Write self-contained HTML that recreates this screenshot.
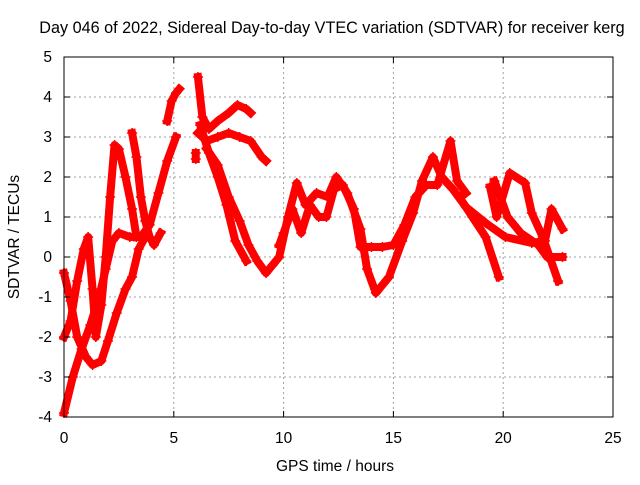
<!DOCTYPE html>
<html><head><meta charset="utf-8"><style>
body{margin:0;background:#fff;}
svg text{font-family:"Liberation Sans",sans-serif;font-size:15.5px;fill:#000;}
</style></head><body>
<svg id="c" width="640" height="480">
<text x="332" y="33" text-anchor="middle" style="font-size:16.2px">Day 046 of 2022, Sidereal Day-to-day VTEC variation (SDTVAR) for receiver kerg</text>
<text x="335" y="471" text-anchor="middle">GPS time / hours</text>
<text transform="translate(19,237) rotate(-90)" text-anchor="middle">SDTVAR / TECUs</text>
<g id="grid"></g><g id="data"></g><g id="axes"></g>
</svg>
<script>
const xTicks=[0,5,10,15,20,25];
const yTicks=[-4,-3,-2,-1,0,1,2,3,4,5];
const track1=[[0,-3.9],[0.4,-3],[0.8,-2.3],[1.2,-1.7],[1.6,-1.0],[1.9,-0.3],[2.2,0.4],[2.5,0.6],[3,0.5],[3.5,0.5],[3.9,0.8],[4.3,1.6],[4.7,2.4],[5.1,3.0]];
const track2=[[0,-0.4],[0.3,-1.1],[0.6,-2.0],[1.0,-2.5],[1.3,-2.7],[1.7,-2.6],[2.0,-2.1],[2.4,-1.4],[2.8,-0.8],[3.1,-0.5],[3.4,0.2],[3.7,0.5]];
const track3=[[0,-2],[0.3,-1.6],[0.6,-0.6],[0.9,0.2],[1.1,0.5],[1.3,-0.8],[1.45,-2.0],[1.7,-1.2],[1.9,0.0],[2.1,1.5],[2.3,2.8],[2.5,2.7],[2.8,2.0],[3.1,1.2],[3.3,0.5]];
const track4=[[3.1,3.1],[3.3,2.5],[3.5,1.5],[3.7,0.9],[3.9,0.5],[4.1,0.3],[4.4,0.6]];
const track5=[[4.7,3.4],[4.9,3.9],[5.1,4.1],[5.25,4.2]];
const track6=[[6.0,2.6],[6.0,2.45]];
const track7=[[6.1,4.5],[6.3,3.5],[6.6,3.2],[7,3.4],[7.5,3.6],[7.9,3.8],[8.3,3.7],[8.5,3.6]];
const track8=[[6.1,3.1],[6.5,2.9],[7,3.0],[7.5,3.1],[8,3.0],[8.5,2.9],[9,2.5],[9.2,2.4]];
const track9=[[6.2,3.3],[6.6,2.6],[7,2.0],[7.4,1.3],[7.8,0.4],[8.3,-0.1]];
const track10=[[6.5,2.7],[7,2.3],[7.5,1.5],[8,0.9],[8.4,0.3],[8.8,-0.1],[9.2,-0.4],[9.5,-0.2],[9.8,0.0],[10.2,1.0],[10.6,1.85],[11,1.3],[11.5,1.6],[12,1.5],[12.4,2.0],[12.9,1.6],[13.5,0.7],[13.8,-0.3],[14.2,-0.9],[14.8,-0.5],[15.4,0.4],[15.9,1.1],[16.3,1.9],[16.8,2.5],[17.2,2.0],[17.7,1.7],[18.3,1.25],[19.2,0.85],[20.1,0.5],[21.3,0.35],[21.9,0.4],[22.2,1.2],[22.7,0.7]];
const track11=[[9.8,0.3],[10,0.6],[10.4,1.2],[10.8,0.6],[11.2,1.3],[11.6,1.0],[11.95,1.0],[12.3,1.7],[12.7,1.8],[13.2,1.2],[13.5,0.25],[14,0.25],[14.5,0.25],[15,0.3],[15.5,0.8],[16,1.5],[16.5,1.8],[17,1.8],[17.6,2.9],[17.9,1.9],[18.3,1.6]];
const track12=[[18,1.5],[18.6,1.0],[19.2,0.5],[19.8,-0.5]];
const track13=[[19.4,1.75],[19.7,1.0],[20.3,2.1],[21,1.85],[21.3,1.1],[21.8,0.5],[22.5,-0.6]];
const track14=[[19.6,1.9],[20.2,1.0],[20.8,0.6],[21.6,0.3],[22,0.0],[22.7,0.0]];
const tracks=[track1,track2,track3,track4,track5,track6,track7,track8,track9,track10,track11,track12,track13,track14];
const X=t=>64+t*(549/25), Y=v=>257-v*40;
const ns="http://www.w3.org/2000/svg";
function mk(tag,parent,attrs){const e=document.createElementNS(ns,tag);for(const k in attrs)e.setAttribute(k,attrs[k]);parent.appendChild(e);return e;}
const grid=document.getElementById('grid'),axes=document.getElementById('axes'),data=document.getElementById('data');
xTicks.forEach(t=>{
 if(t>0&&t<25){const g=mk('line',grid,{x1:X(t),x2:X(t),y1:57,y2:417,stroke:'#a0a0a0','stroke-dasharray':'2,3'});
 
 }
 mk('line',axes,{x1:X(t),x2:X(t),y1:417,y2:411,stroke:'#000'});
 mk('line',axes,{x1:X(t),x2:X(t),y1:57,y2:63,stroke:'#000'});
 const l=mk('text',axes,{x:X(t),y:443,'text-anchor':'middle'});l.textContent=t;
 
 
});
yTicks.forEach(v=>{
 if(v>-4&&v<5){const g=mk('line',grid,{x1:64,x2:613,y1:Y(v),y2:Y(v),stroke:'#a0a0a0','stroke-dasharray':'2,3'});
 
 }
 mk('line',axes,{x1:64,x2:70,y1:Y(v),y2:Y(v),stroke:'#000'});
 mk('line',axes,{x1:613,x2:607,y1:Y(v),y2:Y(v),stroke:'#000'});
 const l=mk('text',axes,{x:52,y:Y(v)+5,'text-anchor':'end'});l.textContent=v;
 
 
});
const b=mk('rect',axes,{x:64,y:57,width:549,height:360,fill:'none',stroke:'#000'});


tracks.forEach(tr=>{
 const p=mk('polyline',data,{points:tr.map(d=>X(d[0])+','+Y(d[1])).join(' '),fill:'none',stroke:'#f00','stroke-width':8,'stroke-linejoin':'round','stroke-linecap':'square'});
 
 
 tr.forEach(d=>{
  const m=mk('path',data,{d:`M${X(d[0])-5},${Y(d[1])}h10M${X(d[0])},${Y(d[1])-5}v10`,stroke:'#f00','stroke-width':1.5});
  
  
 });
});
</script>
</body></html>
